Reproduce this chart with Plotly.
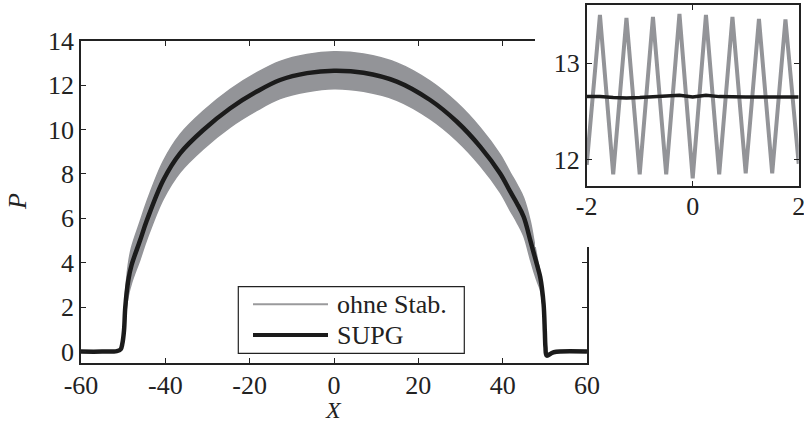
import plotly.graph_objects as go

# ---------------- data ----------------
# SUPG solution (black line)
x_supg = [-60, -55, -51.5, -50.6, -50.2, -49.8, -49.5, -48.8, -48.0, -46.0, -44.4,
          -40.5, -36.5, -31.0, -24.6, -18.3, -12.8, -6.4, 0.0, 7.0, 14.9, 22.8,
          29.15, 34.7, 39.4, 41.8, 43.4, 45.0, 46.55, 47.5, 48.3, 48.9, 49.7, 50.0,
          50.15, 50.45, 52.1, 60]
p_supg = [0.0, 0.0, 0.02, 0.1, 0.35, 0.95, 2.0, 3.2, 3.9, 5.0, 5.9,
          7.72, 8.93, 9.98, 10.96, 11.71, 12.23, 12.54, 12.65, 12.56, 12.16, 11.33,
          10.35, 9.22, 8.02, 7.2, 6.67, 6.06, 5.01, 4.35, 3.8, 3.36, 2.15, 0.9,
          0.2, -0.18, -0.03, 0.0]

# unstabilised solution (grey): upper and lower envelope of the oscillation band
x_band = [-60, -55, -51.5, -50.6, -50.2, -49.8, -49.5, -48.8, -48.0, -46.0, -44.4,
          -40.5, -36.5, -31.0, -24.6, -18.3, -12.8, -6.4, 0.0, 7.0, 14.9, 22.8,
          29.15, 34.7, 39.4, 41.8, 43.4, 45.0, 46.55, 47.5, 48.3, 48.9, 49.7, 50.0,
          50.15, 50.45, 52.1, 60]
p_band_hi = [0.0, 0.0, 0.02, 0.15, 0.5, 1.25, 2.5, 3.9, 4.7, 5.85, 6.75,
             8.57, 9.78, 10.83, 11.81, 12.56, 13.07, 13.38, 13.5, 13.4, 13.0, 12.18,
             11.2, 10.07, 8.87, 8.05, 7.52, 6.91, 5.86, 4.9, 4.1, 3.55, 2.3, 1.0,
             0.25, -0.15, -0.03, 0.0]
p_band_lo = [0.0, 0.0, 0.02, 0.05, 0.2, 0.65, 1.5, 2.5, 3.1, 4.15, 5.05,
             6.87, 8.08, 9.13, 10.11, 10.86, 11.39, 11.7, 11.84, 11.72, 11.32, 10.48,
             9.5, 8.37, 7.17, 6.35, 5.82, 5.21, 4.16, 3.55, 3.1, 2.8, 1.8, 0.7,
             0.1, -0.18, -0.03, 0.0]

# inset: zoom on -2 <= X <= 2
x_inset = [-2.0, -1.75, -1.5, -1.25, -1.0, -0.75, -0.5, -0.25, 0.0,
           0.25, 0.5, 0.75, 1.0, 1.25, 1.5, 1.75, 2.0]
p_inset_ohne = [11.95, 13.50, 11.85, 13.47, 11.85, 13.48, 11.85, 13.51, 11.81,
                13.50, 11.85, 13.48, 11.86, 13.46, 11.86, 13.455, 11.96]
p_inset_supg = [12.655, 12.655, 12.645, 12.64, 12.645, 12.655, 12.66, 12.67, 12.65,
                12.67, 12.655, 12.65, 12.65, 12.65, 12.65, 12.65, 12.65]

# tick labels
main_xticks = [-60, -40, -20, 0, 20, 40, 60]
main_xlabels = ["-60", "-40", "-20", "0", "20", "40", "60"]
main_yticks = [0, 2, 4, 6, 8, 10, 12, 14]
main_ylabels = ["0", "2", "4", "6", "8", "10", "12", "14"]
inset_xticks = [-2, 0, 2]
inset_xlabels = ["-2", "0", "2"]
inset_yticks = [12, 13]
inset_ylabels = ["12", "13"]

legend_names = ["ohne Stab.", "SUPG"]

# ---------------- styling ----------------
W, H = 804, 424
FONT = "Liberation Serif"
AX = "#222222"
GREY = "#939498"
BLACK = "#1b1b1b"
TICKSIZE = 26
SM = 1.0


def fx(p):
    return p / W


def fy(p):
    return 1 - p / H


fig = go.Figure()

# main plot: grey band (lower then upper, filled between)
fig.add_trace(go.Scatter(x=x_band, y=p_band_lo, mode="lines",
                         line=dict(color=GREY, width=1.5, shape="spline", smoothing=SM),
                         showlegend=False, xaxis="x", yaxis="y", hoverinfo="skip"))
fig.add_trace(go.Scatter(x=x_band, y=p_band_hi, mode="lines", fill="tonexty",
                         fillcolor=GREY,
                         line=dict(color=GREY, width=1.5, shape="spline", smoothing=SM),
                         showlegend=False, xaxis="x", yaxis="y", name=legend_names[0]))
fig.add_trace(go.Scatter(x=x_supg, y=p_supg, mode="lines",
                         line=dict(color=BLACK, width=4.5, shape="spline", smoothing=SM),
                         showlegend=False, xaxis="x", yaxis="y", name=legend_names[1]))

# white cover behind the inset (hides part of the main frame)
fig.add_trace(go.Scatter(x=[None], y=[None], mode="lines", showlegend=False,
                         xaxis="x2", yaxis="y2", hoverinfo="skip"))

# inset
fig.add_trace(go.Scatter(x=x_inset, y=p_inset_ohne, mode="lines",
                         line=dict(color=GREY, width=4), showlegend=False,
                         xaxis="x3", yaxis="y3", name=legend_names[0]))
fig.add_trace(go.Scatter(x=x_inset, y=p_inset_supg, mode="lines",
                         line=dict(color=BLACK, width=3.5), showlegend=False,
                         xaxis="x3", yaxis="y3", name=legend_names[1]))

axis_common = dict(showline=True, linecolor=AX, linewidth=1.6, mirror="ticks",
                   ticks="inside", ticklen=5, tickwidth=1.2, tickcolor=AX,
                   showgrid=False, zeroline=False, automargin=False,
                   ticklabeloverflow="allow",
                   tickfont=dict(family=FONT, size=TICKSIZE, color=AX))

fig.update_layout(
    width=W, height=H,
    margin=dict(l=0, r=0, t=0, b=0, pad=0),
    paper_bgcolor="white", plot_bgcolor="white",
    showlegend=False,
    xaxis=dict(domain=[fx(81), fx(587)], range=[-60, 60], anchor="y",
               tickmode="array", tickvals=main_xticks, ticktext=main_xlabels,
               ticklabelstandoff=-2, **axis_common),
    yaxis=dict(domain=[fy(362.7), fy(40.7)], range=[-0.5, 14], anchor="x",
               tickmode="array", tickvals=main_yticks, ticktext=main_ylabels,
               ticklabelstandoff=0, **axis_common),
    xaxis2=dict(domain=[fx(535), 1.0], range=[0, 1], anchor="y2", visible=False,
                automargin=False),
    yaxis2=dict(domain=[fy(247), 1.0], range=[0, 1], anchor="x2", visible=False,
                automargin=False),
    xaxis3=dict(domain=[fx(586.7), fx(798.7)], range=[-2, 2], anchor="y3",
                tickmode="array", tickvals=inset_xticks, ticktext=inset_xlabels,
                ticklabelstandoff=-4, **axis_common),
    yaxis3=dict(domain=[fy(186), fy(5.3)], range=[11.73, 13.6], anchor="x3",
                tickmode="array", tickvals=inset_yticks, ticktext=inset_ylabels,
                ticklabelstandoff=0, **axis_common),
)

# axis titles
fig.add_annotation(text="<i>X</i>", x=fx(333.3), y=fy(410), xref="paper", yref="paper",
                   showarrow=False, font=dict(family=FONT, size=24, color=AX),
                   xanchor="center", yanchor="middle")
fig.add_annotation(text="<i>P</i>", x=fx(18), y=fy(202), xref="paper", yref="paper",
                   showarrow=False, textangle=-90, font=dict(family=FONT, size=26, color=AX),
                   xanchor="center", yanchor="middle")

# legend box (drawn by hand to match the long line samples)
fig.add_shape(type="rect", xref="paper", yref="paper",
              x0=fx(238.3), x1=fx(464.3), y0=fy(353.3), y1=fy(286.7),
              line=dict(color=AX, width=1.2), fillcolor="white", layer="above")
fig.add_shape(type="line", xref="paper", yref="paper",
              x0=fx(253), x1=fx(328), y0=fy(304.3), y1=fy(304.3),
              line=dict(color="#9a9a9c", width=2), layer="above")
fig.add_shape(type="line", xref="paper", yref="paper",
              x0=fx(253), x1=fx(328), y0=fy(335), y1=fy(335),
              line=dict(color=BLACK, width=4), layer="above")
fig.add_annotation(text=legend_names[0], x=fx(335), y=fy(304.3), xref="paper", yref="paper",
                   showarrow=False, font=dict(family=FONT, size=26, color=AX),
                   xanchor="left", yanchor="middle")
fig.add_annotation(text=legend_names[1], x=fx(335), y=fy(335), xref="paper", yref="paper",
                   showarrow=False, font=dict(family=FONT, size=26, color=AX),
                   xanchor="left", yanchor="middle")

fig.write_html("out.html")
